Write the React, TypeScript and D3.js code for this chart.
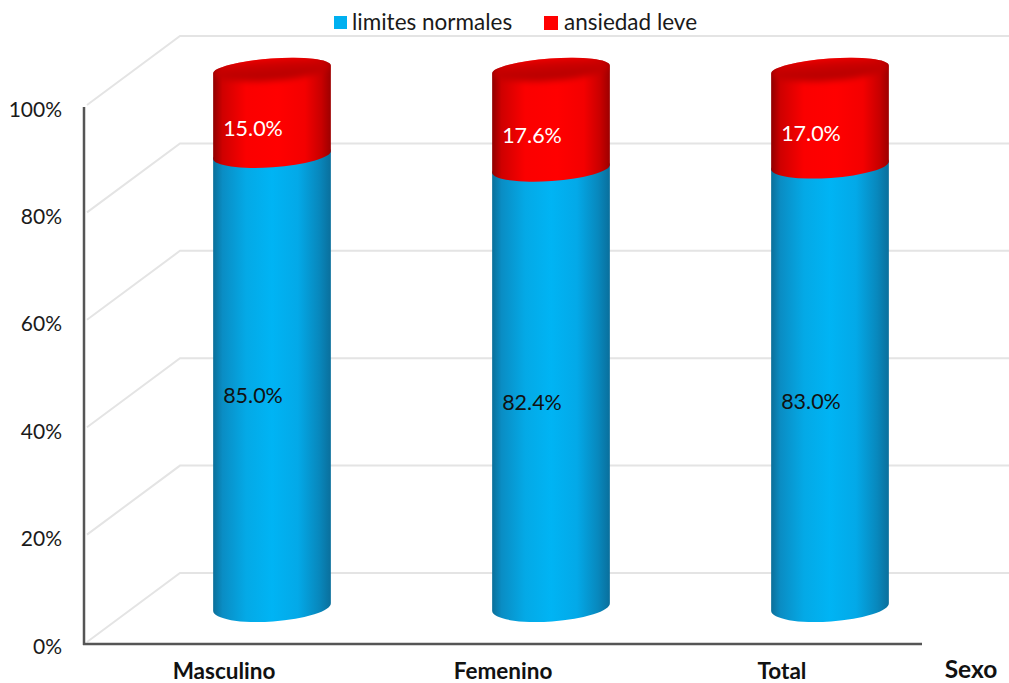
import React from "react";
import * as d3 from "d3";

const categories = ["Masculino", "Femenino", "Total"];
const normalValues = [85.0, 82.4, 83.0];
const mildValues = [15.0, 17.6, 17.0];
const legendLabels = ["limites normales", "ansiedad leve"];
const axisTicks = [0, 20, 40, 60, 80, 100];
const axisTitle = "Sexo";

const WIDTH = 1009;
const HEIGHT = 683;
const FONT = "Lato, 'Open Sans', sans-serif";

// Front plane of the value axis and the offset to the back wall
const y = d3.scaleLinear().domain([0, 100]).range([644, 107]);
const DEPTH_X = 96;
const DEPTH_Y = -71;
const AXIS_X = 84;

// Cylinders sit inside the box, so they use their own vertical mapping
const barY = d3.scaleLinear().domain([0, 100]).range([607, 75]);
const barX = d3.scalePoint<string>().domain(categories).range([272, 830]);
const RX = 59;
const RY = 14.5;
const SPLIT_RY = 12.5;
const TILT = 4;
const CAP_LIFT = 5.5;
const CAP_RY = 11;

const dx = RX * Math.cos((TILT * Math.PI) / 180);
const dy = RX * Math.sin((TILT * Math.PI) / 180);

// Silhouette of a cylinder section: rounded over the top and under the bottom
function bodyPath(cx: number, top: number, bottom: number, topRy: number, bottomRy: number) {
  return [
    `M${cx - dx},${top + dy}`,
    `A${RX},${topRy} ${-TILT} 0 1 ${cx + dx},${top - dy}`,
    `L${cx + dx},${bottom - dy}`,
    `A${RX},${bottomRy} ${-TILT} 0 1 ${cx - dx},${bottom + dy}`,
    "Z",
  ].join(" ");
}

const blueStops: [number, string][] = [
  [0, "#0b6f99"], [0.08, "#0a8dc4"], [0.28, "#04a9e6"], [0.5, "#00b4f4"],
  [0.72, "#03a9e8"], [0.9, "#0888bd"], [1, "#0a6f9c"],
];
const redStops: [number, string][] = [
  [0, "#8f0000"], [0.08, "#cf0000"], [0.28, "#fb0000"], [0.55, "#ff0000"],
  [0.78, "#f40000"], [0.92, "#c80000"], [1, "#9c0000"],
];
const capStops: [number, string][] = [
  [0, "#e00000"], [0.45, "#c40000"], [1, "#b40000"],
];

function Gradient({ id, stops }: { id: string; stops: [number, string][] }) {
  return (
    <linearGradient id={id} x1="0" x2="1" y1="0" y2="0">
      {stops.map(([o, c]) => (
        <stop key={o} offset={o} stopColor={c} />
      ))}
    </linearGradient>
  );
}

export default function App() {
  return (
    <svg
      width={WIDTH}
      height={HEIGHT}
      viewBox={`0 0 ${WIDTH} ${HEIGHT}`}
      style={{ position: "absolute", left: 0, top: 0, background: "#fff", fontFamily: FONT }}
    >
      <defs>
        <Gradient id="blueSide" stops={blueStops} />
        <Gradient id="redSide" stops={redStops} />
        <linearGradient id="redCap" x1="0" x2="0" y1="0" y2="1">
          {capStops.map(([o, c]) => (
            <stop key={o} offset={o} stopColor={c} />
          ))}
        </linearGradient>
        <filter id="capSoft" x="-10%" y="-40%" width="120%" height="180%">
          <feGaussianBlur stdDeviation="3" />
        </filter>
      </defs>

      {/* Back wall gridlines and their diagonal returns to the axis */}
      {axisTicks.map((t) => (
        <polyline
          key={t}
          points={`${AXIS_X + 3},${y(t) - 2} ${AXIS_X + DEPTH_X},${y(t) + DEPTH_Y} ${WIDTH},${y(t) + DEPTH_Y}`}
          fill="none"
          stroke="#e4e4e4"
          strokeWidth={2}
        />
      ))}

      {/* Axes */}
      <line x1={AXIS_X} x2={AXIS_X} y1={y(100)} y2={y(0) + 1} stroke="#555" strokeWidth={2.5} />
      <line x1={AXIS_X - 1} x2={922} y1={y(0)} y2={y(0)} stroke="#555" strokeWidth={2.5} />

      {axisTicks.map((t) => (
        <text key={t} x={62} y={y(t) + 9.5} textAnchor="end" fontSize={21} fill="#1a1a1a">
          {`${t}%`}
        </text>
      ))}

      {/* Stacked cylinders */}
      {categories.map((c, i) => {
        const cx = barX(c) as number;
        const split = barY(normalValues[i]);
        const top = barY(normalValues[i] + mildValues[i]);
        const capY = top - CAP_LIFT;
        const redPath = bodyPath(cx, capY, split, CAP_RY, SPLIT_RY);
        return (
          <g key={c}>
            <clipPath id={`redClip${i}`}>
              <path d={redPath} />
            </clipPath>
            <path d={bodyPath(cx, split, barY(0), SPLIT_RY, RY)} fill="url(#blueSide)" />
            <path d={redPath} fill="url(#redSide)" />
            <g clipPath={`url(#redClip${i})`}>
              <ellipse
                cx={cx}
                cy={capY}
                rx={RX}
                ry={CAP_RY}
                transform={`rotate(${-TILT} ${cx} ${capY})`}
                fill="url(#redCap)"
                filter="url(#capSoft)"
              />
            </g>
            <text
              x={cx - 19}
              y={barY(normalValues[i] + mildValues[i] / 2) + 21}
              textAnchor="middle"
              fontSize={21.5}
              fill="#fff"
            >
              {`${mildValues[i].toFixed(1)}%`}
            </text>
            <text
              x={cx - 19}
              y={barY(normalValues[i] / 2) + 22.5}
              textAnchor="middle"
              fontSize={21.5}
              fill="#111"
            >
              {`${normalValues[i].toFixed(1)}%`}
            </text>
            <text
              x={cx - 48}
              y={678.5}
              textAnchor="middle"
              fontSize={22.5}
              fontWeight={700}
              fill="#111"
            >
              {c}
            </text>
          </g>
        );
      })}

      <text x={971} y={678} textAnchor="middle" fontSize={24.5} fontWeight={700} fill="#111">
        {axisTitle}
      </text>

      {/* Legend */}
      <rect x={334} y={16} width={13} height={13} fill="#00b0f0" />
      <text x={352} y={29.5} fontSize={22.5} fill="#1a1a1a">{legendLabels[0]}</text>
      <rect x={544} y={16} width={14} height={14} fill="#ff0000" />
      <text x={564} y={29.5} fontSize={22.5} fill="#1a1a1a">{legendLabels[1]}</text>
    </svg>
  );
}
